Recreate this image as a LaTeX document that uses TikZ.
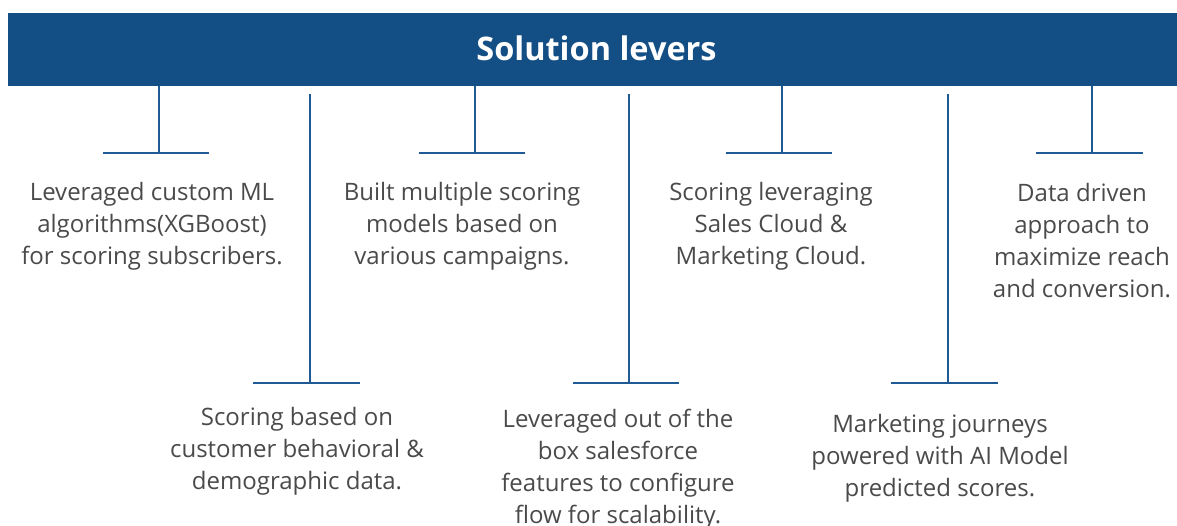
\documentclass[tikz,border=0pt]{standalone}
\usepackage{fontspec}
\setmainfont{Open Sans}
\definecolor{bannerblue}{HTML}{134E84}
\definecolor{lineblue}{HTML}{1F5A94}
\definecolor{txtgray}{HTML}{4A4A4A}
\begin{document}
\begin{tikzpicture}[x=1pt,y=-1pt,
  banner/.style={fill=bannerblue, minimum width=1169pt, minimum height=73pt, inner sep=0pt},
  title/.style={text=white, inner sep=0pt, font=\fontsize{32.5}{40}\selectfont\bfseries},
  lever/.style={text=txtgray, align=center, font=\fontsize{24}{32}\selectfont, inner sep=0pt},
  conn/.style={draw=lineblue, line width=1.8pt}]
\useasboundingbox (0,0) rectangle (1177,526);
\node[banner] (banner) at (592.5,49.5) {};
\node[title] (ttl) at (596.5,48.5) {Solution levers};

% top T connectors
\coordinate (ta) at (159,153); \coordinate (tal) at (103,153); \coordinate (tar) at (209,153);
\coordinate (tb) at (475,153); \coordinate (tbl) at (419,153); \coordinate (tbr) at (525,153);
\coordinate (tc) at (782,153); \coordinate (tcl) at (726,153); \coordinate (tcr) at (832,153);
\coordinate (td) at (1092,153); \coordinate (tdl) at (1036,153); \coordinate (tdr) at (1143,153);
\draw[conn] (banner.south -| ta) -- (ta); \draw[conn] (tal) -- (tar);
\draw[conn] (banner.south -| tb) -- (tb); \draw[conn] (tbl) -- (tbr);
\draw[conn] (banner.south -| tc) -- (tc); \draw[conn] (tcl) -- (tcr);
\draw[conn] (banner.south -| td) -- (td); \draw[conn] (tdl) -- (tdr);

% bottom T connectors
\coordinate (ua0) at (310,94); \coordinate (ua) at (310,383); \coordinate (ual) at (253,383); \coordinate (uar) at (360,383);
\coordinate (ub0) at (629,94); \coordinate (ub) at (629,383); \coordinate (ubl) at (573,383); \coordinate (ubr) at (679,383);
\coordinate (uc0) at (948,94); \coordinate (uc) at (948,383); \coordinate (ucl) at (891,383); \coordinate (ucr) at (998,383);
\draw[conn] (ua0) -- (ua); \draw[conn] (ual) -- (uar);
\draw[conn] (ub0) -- (ub); \draw[conn] (ubl) -- (ubr);
\draw[conn] (uc0) -- (uc); \draw[conn] (ucl) -- (ucr);

% texts
\node[lever] (t1) at (152,226) {Leveraged custom ML\\algorithms(XGBoost)\\for scoring subscribers.};
\node[lever] (t2) at (462,226) {Built multiple scoring\\models based on\\various campaigns.};
\node[lever] (t3) at (771,226) {Scoring leveraging\\Sales Cloud \&\\Marketing Cloud.};
\node[lever] (t4) at (1082,241) {Data driven\\approach to\\maximize reach\\and conversion.};
\node[lever] (b1) at (297,451) {Scoring based on\\customer behavioral \&\\demographic data.};
\node[lever] (b2) at (618,469) {Leveraged out of the\\box salesforce\\features to configure\\flow for scalability.};
\node[lever] (b3) at (940,458) {Marketing journeys\\powered with AI Model\\predicted scores.};
\end{tikzpicture}
\end{document}
